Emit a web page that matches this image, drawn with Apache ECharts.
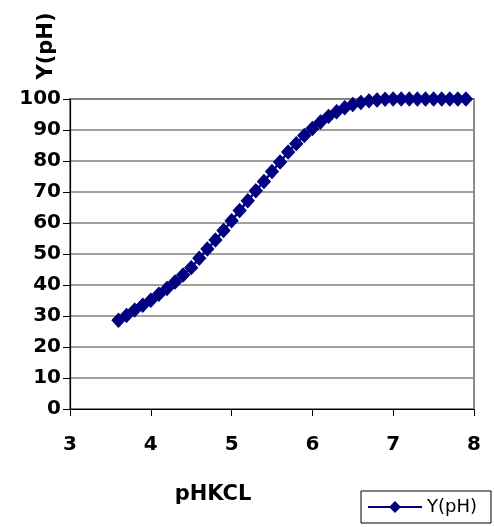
<!DOCTYPE html>
<html>
<head>
<meta charset="utf-8">
<title>Y(pH) vs pHKCL</title>
<script src="https://cdn.jsdelivr.net/npm/echarts@6/dist/echarts.min.js"></script>
<style>
  html, body { margin: 0; padding: 0; background: #fff; }
  #chart { width: 494px; height: 527px; }
</style>
</head>
<body>
<div id="chart"></div>
<script>
// pHKCL readings (x) and the matching Y(pH) values
const phKcl = [
  3.6, 3.7, 3.8, 3.9, 4.0, 4.1, 4.2, 4.3, 4.4, 4.5,
  4.6, 4.7, 4.8, 4.9, 5.0, 5.1, 5.2, 5.3, 5.4, 5.5,
  5.6, 5.7, 5.8, 5.9, 6.0, 6.1, 6.2, 6.3, 6.4, 6.5,
  6.6, 6.7, 6.8, 6.9, 7.0, 7.1, 7.2, 7.3, 7.4, 7.5,
  7.6, 7.7, 7.8, 7.9
];
const yPh = [
  28.6, 30.2, 31.9, 33.5, 35.1, 37.0, 38.9, 41.0, 43.2, 45.6,
  48.6, 51.6, 54.5, 57.6, 60.7, 64.0, 67.2, 70.4, 73.4, 76.6,
  79.7, 82.9, 85.6, 88.2, 90.5, 92.6, 94.4, 95.9, 97.2, 98.2,
  98.9, 99.4, 99.7, 99.9, 100, 100, 100, 100, 100, 100,
  100, 100, 100, 100
];
const seriesName = 'Y(pH)';
const xTitle = 'pHKCL';
const yTitle = 'Y(pH)';

const points = phKcl.map((x, i) => [x, yPh[i]]);

const boldFont = 'DejaVu Sans';
const navy = '#000080';

const chart = echarts.init(document.getElementById('chart'), null, { renderer: 'canvas' });

chart.setOption({
  animation: false,
  backgroundColor: '#fff',
  grid: {
    left: 70, right: 20, top: 99, bottom: 118,
    show: true, borderColor: '#8c8c8c', borderWidth: 2, backgroundColor: 'transparent'
  },
  xAxis: {
    type: 'value', min: 3, max: 8, interval: 1,
    axisLine: { lineStyle: { color: '#000', width: 1.2 } },
    axisTick: { show: true, inside: false, length: 7, lineStyle: { color: '#000' } },
    axisLabel: { margin: 26, color: '#000', fontFamily: boldFont, fontWeight: 'bold', fontSize: 20 },
    splitLine: { show: false }
  },
  yAxis: {
    type: 'value', min: 0, max: 100, interval: 10,
    axisLine: { show: true, lineStyle: { color: '#000', width: 1.2 } },
    axisTick: { show: true, inside: false, length: 7, lineStyle: { color: '#000' } },
    axisLabel: { margin: 9, color: '#000', fontFamily: boldFont, fontWeight: 'bold', fontSize: 20 },
    splitLine: { show: true, lineStyle: { color: '#808080', width: 1.5 } }
  },
  legend: {
    data: [seriesName],
    left: 361, top: 491,
    padding: [7, 14, 7, 6],
    itemWidth: 54, itemHeight: 15, itemGap: 4,
    borderColor: '#000', borderWidth: 1, borderRadius: 0,
    backgroundColor: '#fff',
    textStyle: { color: '#000', fontFamily: 'DejaVu Sans', fontSize: 18 }
  },
  graphic: [
    {
      type: 'text', x: 47, y: 46, rotation: Math.PI / 2,
      style: {
        text: yTitle, fill: '#000', font: 'bold 21px "DejaVu Sans"',
        align: 'center', verticalAlign: 'middle'
      }
    },
    {
      type: 'text', x: 213, y: 495,
      style: {
        text: xTitle, fill: '#000', font: 'bold 21px "DejaVu Sans"',
        align: 'center', verticalAlign: 'middle'
      }
    }
  ],
  series: [{
    name: seriesName,
    type: 'line',
    data: points,
    symbol: 'diamond',
    symbolSize: [13, 14],
    showAllSymbol: true,
    itemStyle: { color: navy, borderColor: navy },
    lineStyle: { color: navy, width: 2.5 },
    clip: false
  }]
});
</script>
</body>
</html>
